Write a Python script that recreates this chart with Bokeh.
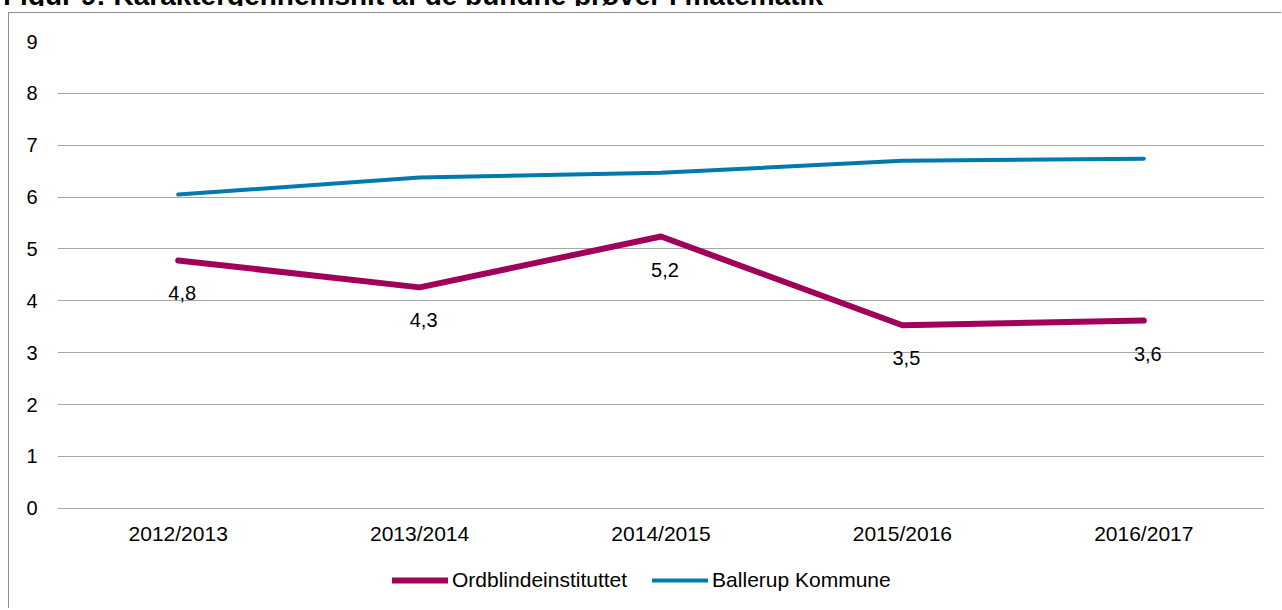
from bokeh.plotting import figure
from bokeh.models import FixedTicker, Legend, LegendItem, Div, ColumnDataSource
from bokeh.layouts import column
from bokeh.core.properties import value
from bokeh.embed import file_html
from bokeh.resources import INLINE

title_text = "Figur 9: Karaktergennemsnit af de bundne prøver i matematik"
categories = ["2012/2013", "2013/2014", "2014/2015", "2015/2016", "2016/2017"]
ordblinde = [4.78, 4.26, 5.24, 3.53, 3.62]
ballerup = [6.05, 6.38, 6.47, 6.70, 6.74]
ordblinde_labels = ["4,8", "4,3", "5,2", "3,5", "3,6"]
y_ticks = [0, 1, 2, 3, 4, 5, 6, 7, 8, 9]

FONT = "Liberation Sans"
FS = "20px"
FS_X = "21px"
PURPLE = "#A0005A"
BLUE = "#0079AF"

src_o = ColumnDataSource(dict(x=categories, y=ordblinde, lab=ordblinde_labels))
src_b = ColumnDataSource(dict(x=categories, y=ballerup))

p = figure(x_range=categories, y_range=(-1.95, 9), width=1273, height=596,
           output_backend="svg", toolbar_location=None,
           min_border_left=48, min_border_right=18, min_border_top=28, min_border_bottom=0,
           styles={"border-top": "1px solid #8f8f8f", "border-left": "1px solid #8f8f8f",
                   "margin-left": "8px"})
p.outline_line_color = None
p.xgrid.grid_line_color = None
p.ygrid.grid_line_color = "#A6A6A6"
p.ygrid.grid_line_width = 1
p.yaxis.ticker = FixedTicker(ticks=y_ticks)

for ax in (p.xaxis, p.yaxis):
    ax.axis_line_color = None
    ax.major_tick_line_color = None
    ax.minor_tick_line_color = None
    ax.major_tick_out = 0
    ax.major_tick_in = 0
    ax.major_label_text_font = FONT
    ax.major_label_text_font_size = FS
    ax.major_label_text_color = "#000000"
p.yaxis.major_label_standoff = 20
# x axis drawn inside the plot, just under the 0 line
p.xaxis.fixed_location = -0.71
p.xaxis.major_label_standoff = -23
p.xaxis.major_label_text_font_size = FS_X

r_o = p.line("x", "y", source=src_o, line_color=PURPLE, line_width=6,
             line_cap="round", line_join="round")
r_b = p.line("x", "y", source=src_b, line_color=BLUE, line_width=4,
             line_cap="round", line_join="round")

p.text("x", "y", text="lab", source=src_o, text_align="center", text_baseline="middle",
       x_offset=4, y_offset=33, text_font=value(FONT), text_font_size=FS,
       text_color="#000000")

legend = Legend(items=[LegendItem(label="Ordblindeinstituttet", renderers=[r_o]),
                       LegendItem(label="Ballerup Kommune", renderers=[r_b])],
                orientation="horizontal", location=(335, 17),
                glyph_width=56, glyph_height=20, label_standoff=4, spacing=25,
                padding=0, margin=0, border_line_color=None,
                background_fill_alpha=0, label_text_font=FONT,
                label_text_font_size=FS_X, label_text_color="#000000")
p.add_layout(legend, "center")

title = Div(text=('<div style="position:absolute; left:0px; top:0px; width:1282px; height:14px; '
                  'overflow:hidden;"><div style="position:absolute; left:-2px; top:-10px; '
                  'white-space:nowrap; font-family:\'Liberation Sans\'; font-weight:bold; '
                  'font-size:28px; line-height:28px; color:#000;">' + title_text + '</div></div>'),
            width=1282, height=15,
            styles={"margin-top": "-8px", "position": "relative"})

layout = column(title, p)
open("out.html", "w").write(file_html(layout, INLINE))
